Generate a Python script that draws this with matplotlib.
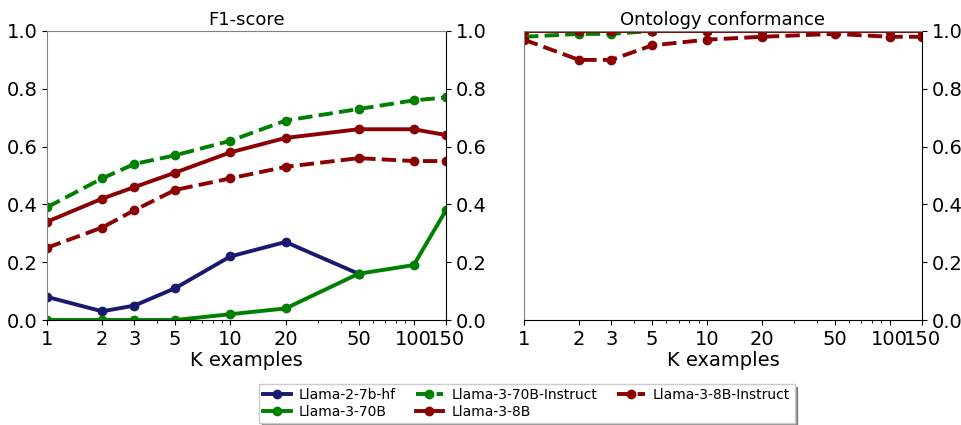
import matplotlib.pyplot as plt
from matplotlib.ticker import FixedLocator, NullFormatter

k = [1, 2, 3, 5, 10, 20, 50, 100, 150]
k_llama2 = [1, 2, 3, 5, 10, 20, 50]

names = ["Llama-2-7b-hf", "Llama-3-70B", "Llama-3-70B-Instruct",
         "Llama-3-8B", "Llama-3-8B-Instruct"]

f1_llama2 = [0.08, 0.03, 0.05, 0.11, 0.22, 0.27, 0.16]
f1_70b = [0.0, 0.0, 0.0, 0.0, 0.02, 0.04, 0.16, 0.19, 0.38]
f1_70b_inst = [0.39, 0.49, 0.54, 0.57, 0.62, 0.69, 0.73, 0.76, 0.77]
f1_8b = [0.34, 0.42, 0.46, 0.51, 0.58, 0.63, 0.66, 0.66, 0.64]
f1_8b_inst = [0.25, 0.32, 0.38, 0.45, 0.49, 0.53, 0.56, 0.55, 0.55]

oc_llama2 = [1.0, 1.0, 1.0, 1.0, 1.0, 1.0, 1.0]
oc_70b = [1.0, 1.0, 1.0, 1.0, 1.0, 1.0, 1.0, 1.0, 1.0]
oc_70b_inst = [0.98, 0.99, 0.99, 1.0, 1.0, 1.0, 1.0, 1.0, 1.0]
oc_8b = [1.0, 1.0, 1.0, 1.0, 1.0, 1.0, 1.0, 1.0, 1.0]
oc_8b_inst = [0.97, 0.90, 0.90, 0.95, 0.97, 0.98, 0.99, 0.98, 0.98]

styles = {
    "Llama-2-7b-hf": ("#191970", "-"),
    "Llama-3-70B": ("green", "-"),
    "Llama-3-70B-Instruct": ("green", "--"),
    "Llama-3-8B": ("darkred", "-"),
    "Llama-3-8B-Instruct": ("darkred", "--"),
}

fig = plt.figure(figsize=(9.61, 4.25), dpi=100)
ax1 = fig.add_axes([47 / 961, 105 / 425, 399 / 961, 289 / 425])
ax2 = fig.add_axes([524 / 961, 105 / 425, 398 / 961, 289 / 425])

panels = [
    (ax1, "F1-score", [f1_llama2, f1_70b, f1_70b_inst, f1_8b, f1_8b_inst]),
    (ax2, "Ontology conformance", [oc_llama2, oc_70b, oc_70b_inst, oc_8b, oc_8b_inst]),
]

for ax, title, series in panels:
    for name, vals in zip(names, series):
        c, ls = styles[name]
        xs = k_llama2 if name == "Llama-2-7b-hf" else k
        ax.plot(xs, vals, color=c, linestyle=ls, linewidth=2.8, marker="o",
                markersize=6, label=name)
    ax.set_xscale("log")
    ax.set_xlim(1, 150)
    ax.set_ylim(0, 1)
    ax.xaxis.set_major_locator(FixedLocator(k))
    ax.set_xticklabels([str(v) for v in k])
    ax.xaxis.set_minor_formatter(NullFormatter())
    ax.set_yticks([0, 0.2, 0.4, 0.6, 0.8, 1.0])
    ax.set_title(title, fontsize=13, pad=4)
    ax.set_xlabel("K examples", fontsize=14, labelpad=2)
    ax.tick_params(labelsize=14, right=True, labelright=True)
    ax.spines["top"].set_color("gray")
    ax.spines["left"].set_color("gray")

ax2.tick_params(left=False, labelleft=False)

h, l = ax1.get_legend_handles_labels()
fig.legend(h, l, loc="lower center", ncol=3, fontsize=10,
           bbox_to_anchor=(0.548, -0.012), shadow={"ox": 2, "oy": -2, "alpha": 0.6},
           fancybox=False, framealpha=1, borderpad=0.3, labelspacing=0.2,
           columnspacing=1.4, handletextpad=0.6)

fig.savefig("out.png", dpi=100)
